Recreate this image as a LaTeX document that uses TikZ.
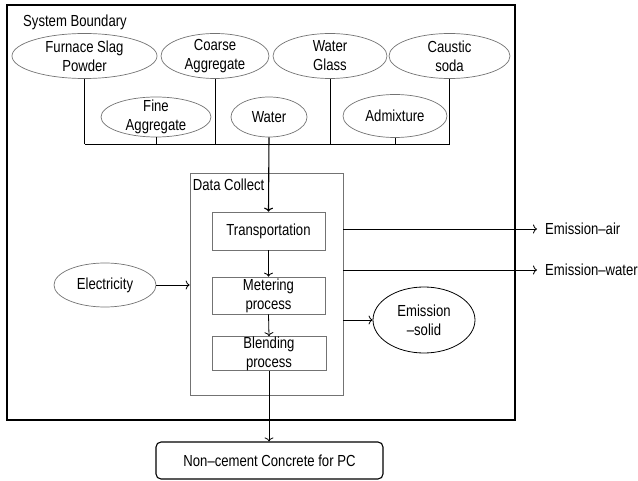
\documentclass[tikz,border=0pt]{standalone}
\usepackage{fontspec}
\setmainfont{Liberation Sans}[FakeStretch=0.82]
\usetikzlibrary{shapes.geometric,arrows.meta}
\begin{document}
\begin{tikzpicture}[x=1pt,y=-1pt,
  font=\fontsize{16}{19}\selectfont,
  ell/.style={ellipse, draw=black!55, line width=0.7pt, inner sep=0pt},
  pbox/.style={rectangle, draw=black!55, line width=0.7pt, inner sep=0pt, align=center},
  conn/.style={draw=black, line width=0.8pt},
  arr/.style={conn, -{To[length=4pt,width=9pt]}},
  txt/.style={inner sep=0pt, align=center}]
\useasboundingbox (0,0) rectangle (638,481);
% system boundary
\node[draw=black, line width=2pt, minimum width=508pt, minimum height=415pt, inner sep=0pt] (sb) at (261,212.5) {};
\node[txt, anchor=west] (sbl) at (23,22) {System Boundary};
% top ellipses
\node[ell, minimum width=145pt, minimum height=45pt] (fs) at (84.5,56) {};
\node[txt] at (fs) {Furnace Slag\\Powder};
\node[ell, minimum width=108pt, minimum height=45pt] (ca) at (215,56) {};
\node[txt] at (ca) {Coarse\\Aggregate};
\node[ell, minimum width=114pt, minimum height=45pt] (wg) at (330,56) {};
\node[txt] at (wg) {Water\\Glass};
\node[ell, minimum width=121pt, minimum height=45pt] (cs) at (449.5,56) {};
\node[txt] at (cs) {Caustic\\soda};
% second row
\node[ell, minimum width=110pt, minimum height=40pt] (fa) at (156,117) {};
\node[txt] at (fa) {Fine\\Aggregate};
\node[ell, minimum width=76pt, minimum height=40pt] (wa) at (269,117) {};
\node[txt] at (wa) {Water};
\node[ell, minimum width=104pt, minimum height=43pt] (ad) at (395,116) {};
\node[txt] at (ad) {Admixture};
% bus
\coordinate (busL) at (84.5,144);
\coordinate (busR) at (450,144);
\draw[conn] (busL) -- (busR);
\draw[conn] (fs.south) -- (fs.south |- busL);
\draw[conn] (ca.south) -- (ca.south |- busL);
\draw[conn] (wg.south) -- (wg.south |- busL);
\draw[conn] (cs.south) -- (cs.south |- busL);
\draw[conn] (fa.south) -- (fa.south |- busL);
\draw[conn] (ad.south) -- (ad.south |- busL);
% data collect
\node[rectangle, draw=black!55, line width=0.7pt, minimum width=153pt, minimum height=222pt, inner sep=0pt] (dc) at (266.5,284) {};
\node[txt, anchor=north west] (dcl) at ([shift={(3pt,-6pt)}]dc.north west) {Data Collect};
\node[pbox, minimum width=113pt, minimum height=38pt] (tr) at (268.5,231) {Transportation};
\node[pbox, minimum width=113pt, minimum height=37pt] (me) at (268.5,295.5) {Metering\\process};
\node[pbox, minimum width=114pt, minimum height=33pt] (bl) at (269,353.5) {Blending\\process};
\draw[arr, line width=1.1pt] (wa.south) -- (tr.north);
\draw[arr] (tr.south) -- (me.north);
\draw[arr] (me.south) -- (bl.north);
% electricity
\node[ell, minimum width=102pt, minimum height=44pt] (el) at (105,285) {};
\node[txt] at (el) {Electricity};
\draw[arr] (el.east) -- (el.east -| dc.west);
% emissions
\coordinate (eair) at (537,229);
\coordinate (ewat) at (537,270);
\draw[arr] (dc.east |- eair) -- (eair);
\draw[arr] (dc.east |- ewat) -- (ewat);
\node[txt, anchor=west] (eairl) at ([xshift=8pt]eair) {Emission\textendash air};
\node[txt, anchor=west] (ewatl) at ([xshift=8pt]ewat) {Emission\textendash water};
\node[ellipse, draw=black, line width=0.8pt, inner sep=0pt, minimum width=102pt, minimum height=66pt] (es) at (424,320) {};
\node[txt] at (es) {Emission\\\textendash solid};
\draw[arr] (dc.east |- es.west) -- (es.west);
% product
\node[rectangle, rounded corners=5pt, draw=black, line width=1.1pt, minimum width=227pt, minimum height=37pt, inner sep=0pt] (nc) at (269.5,460.5) {Non\textendash cement Concrete for PC};
\draw[arr] (bl.south) -- (bl.south |- nc.north);
\end{tikzpicture}
\end{document}
